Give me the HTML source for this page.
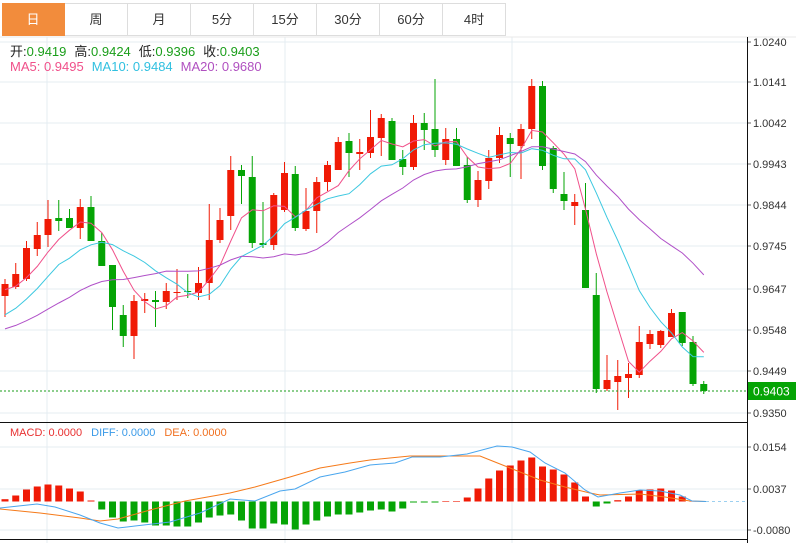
<!DOCTYPE html>
<html><head><meta charset="utf-8"><style>
body{margin:0;width:796px;height:543px;background:#fff;overflow:hidden;font-family:"Liberation Sans","Noto Sans CJK SC",sans-serif}
.tabs{position:absolute;left:2px;top:3px;height:32px;display:flex}
.tab{width:62px;height:31px;border:1px solid #ddd;border-left:none;text-align:center;line-height:31px;font-size:13px;color:#333;background:#fff}
.tab.on{background:#f28c3c;color:#fff;border-color:#f28c3c}
svg{position:absolute;left:0;top:0}
</style></head><body>
<div class="tabs"><div class="tab on">日</div><div class="tab">周</div><div class="tab">月</div><div class="tab">5分</div><div class="tab">15分</div><div class="tab">30分</div><div class="tab">60分</div><div class="tab">4时</div></div>
<svg id="s" width="796" height="543" xmlns="http://www.w3.org/2000/svg" font-family="Liberation Sans, Noto Sans CJK SC, sans-serif"></svg>
<script>
var C=[[284,296,279,317,1],[274,287,263,289,1],[248,279,241,281,1],[235,249,222,256,1],[219,235,200,247,1],[218,221,200,231,0],[218,228,209,228,0],[207,228,199,239,1],[207,241,196,241,0],[241,266,233,266,0],[265,307,265,330,0],[315,336,305,347,0],[301,336,295,359,1],[299,301,293,313,1],[300,302,291,327,0],[291,302,283,309,1],[292,293,269,300,1],[291,292,274,298,0],[283,293,267,300,1],[240,283,204,300,1],[220,240,208,243,1],[170,216,156,230,1],[170,176,165,204,0],[177,243,156,248,0],[243,245,202,248,0],[195,245,193,250,1],[173,210,162,212,1],[174,228,166,231,0],[211,229,188,231,1],[182,211,177,233,1],[165,182,161,191,1],[142,170,137,170,1],[141,153,133,177,0],[152,154,139,170,1],[137,153,110,158,1],[118,138,114,156,1],[121,160,118,160,0],[159,167,150,175,0],[123,167,115,170,1],[123,130,113,150,0],[129,150,79,157,0],[139,160,128,165,1],[139,166,128,166,0],[165,200,157,203,0],[180,200,171,207,1],[158,181,150,189,1],[135,158,127,163,1],[138,144,133,177,0],[129,146,124,179,1],[86,129,79,139,1],[86,166,81,170,0],[148,189,146,193,0],[194,201,172,210,0],[202,206,194,225,1],[210,288,183,288,0],[295,389,273,393,0],[380,389,355,391,1],[376,382,360,410,1],[374,378,363,398,1],[342,375,326,378,1],[334,344,330,349,1],[331,345,330,348,1],[313,337,309,337,1],[312,343,312,346,0],[342,384,336,386,0],[384,391,381,394,0]];
var H=[2.3,6,12,15,17,16,13,10,1,-8,-16,-20,-19,-21,-24,-24,-25,-25,-21,-16,-14,-13,-19,-27,-27,-22,-23,-28,-23,-19,-15,-13,-13,-11,-9,-8,-10,-7,-1,-1,-1,.5,.5,4,13,23,31,36,41,44,35,32,27,19,5,-5,-2,1.3,5,11,12,13,11,5,.5];
var RED="#f01a05",GRN="#05a405";
var s='';
function X(i){return 5+10.75*i}
var ticks=[["1.0240",42],["1.0141",82],["1.0042",123],["0.9943",164],["0.9844",205],["0.9745",246],["0.9647",289],["0.9548",330],["0.9449",371],["0.9350",413]];
ticks.forEach(function(t){s+='<line x1="0" x2="747" y1="'+t[1]+'" y2="'+t[1]+'" stroke="#e4ecf2"/><line x1="747" x2="751" y1="'+t[1]+'" y2="'+t[1]+'" stroke="#666"/><text x="753" y="'+(t[1]+4)+'" font-size="11" fill="#333">'+t[0]+'</text>';});
[["0.0154",447],["0.0037",489],["-0.0080",530]].forEach(function(t){s+='<line x1="0" x2="747" y1="'+t[1]+'" y2="'+t[1]+'" stroke="#e4ecf2"/><line x1="747" x2="751" y1="'+t[1]+'" y2="'+t[1]+'" stroke="#666"/><text x="753" y="'+(t[1]+4)+'" font-size="11" fill="#333">'+t[0]+'</text>';});
[47,285,512].forEach(function(x){s+='<line x1="'+x+'" x2="'+x+'" y1="37" y2="543" stroke="#e4ecf2"/>';});
s+='<line x1="0" x2="796" y1="37" y2="37" stroke="#e8e8e8"/>';
s+='<line x1="0" x2="747" y1="422.5" y2="422.5" stroke="#111"/><line x1="0" x2="747" y1="539.5" y2="539.5" stroke="#111"/>';
s+='<line x1="747.5" x2="747.5" y1="37" y2="543" stroke="#111"/>';
C.forEach(function(c,i){var x=X(i),col=c[4]?RED:GRN;
s+='<line x1="'+x+'" x2="'+x+'" y1="'+c[2]+'" y2="'+c[3]+'" stroke="'+col+'"/>';
s+='<rect x="'+(x-3.5)+'" y="'+c[0]+'" width="7" height="'+Math.max(1,c[1]-c[0])+'" fill="'+col+'"/>';});
var cl=C.map(function(c){return c[4]?c[0]:c[1]});
var pre=[343,343,343,343,343,343,343,343,343,343,340,340,340,340,340,291,291,291,291];
var all=pre.concat(cl);
function ma(n,col){var p=[];for(var i=0;i<cl.length;i++){var k=i+pre.length,sum=0;for(var j=0;j<n;j++)sum+=all[k-j];p.push(X(i).toFixed(1)+','+(sum/n).toFixed(1));}
s+='<polyline points="'+p.join(' ')+'" fill="none" stroke="'+col+'" stroke-width="1"/>';}
ma(5,"#f0508a");ma(10,"#3cc8e0");ma(20,"#b050c8");
s+='<line x1="0" x2="747" y1="391" y2="391" stroke="#1a9e1a" stroke-dasharray="2,2"/>';
s+='<rect x="748" y="382" width="48" height="18" fill="#05a405"/><text x="753" y="395.5" font-size="12" fill="#fff">0.9403</text>';
var Z=501.5;
H.forEach(function(h,i){var x=X(i);if(h>=0)s+='<rect x="'+(x-3.5)+'" y="'+(Z-h)+'" width="7" height="'+Math.max(h,.6)+'" fill="'+RED+'"/>';else s+='<rect x="'+(x-3.5)+'" y="'+Z+'" width="7" height="'+(-h)+'" fill="'+GRN+'"/>';});
s+='<line x1="706" x2="747" y1="501.5" y2="501.5" stroke="#9cd0f0" stroke-dasharray="3,3"/>';
var D="0,508 37,504 55,507 80,515 100,523 118,528 135,526 170,522 200,513 230,499 255,501 280,491 295,489 320,477 345,472 370,465 395,463 412,457 440,457 467,454 497,446 512,447 530,452 545,463 565,473 585,490 598,497 620,493 640,490 660,491 680,495 692,501 706,501.5";
var E="0,509 40,513 80,518 100,521 118,519 150,510 185,501 230,493 255,487 290,477 320,468 350,463 370,460 410,456 480,456 495,462 515,470 540,480 565,487 590,493 600,495 640,494 665,497 690,501 706,501.5";
s+='<polyline points="'+E+'" fill="none" stroke="#f57a1a"/><polyline points="'+D+'" fill="none" stroke="#4aa6ee"/>';
s+='<text x="10" y="56" font-size="13" fill="#222">开:<tspan fill="#1a9e1a">0.9419</tspan><tspan dx="8">高:</tspan><tspan fill="#1a9e1a">0.9424</tspan><tspan dx="8">低:</tspan><tspan fill="#1a9e1a">0.9396</tspan><tspan dx="8">收:</tspan><tspan fill="#1a9e1a">0.9403</tspan></text>';
s+='<text x="10" y="71" font-size="13"><tspan fill="#f0508a">MA5: 0.9495</tspan><tspan dx="8" fill="#30c0e0">MA10: 0.9484</tspan><tspan dx="8" fill="#b050c0">MA20: 0.9680</tspan></text>';
s+='<text x="10" y="436" font-size="11"><tspan fill="#e83030">MACD: 0.0000</tspan><tspan dx="9" fill="#3a9ae8">DIFF: 0.0000</tspan><tspan dx="9" fill="#f07020">DEA: 0.0000</tspan></text>';
document.getElementById('s').innerHTML=s;
</script>
</body></html>
